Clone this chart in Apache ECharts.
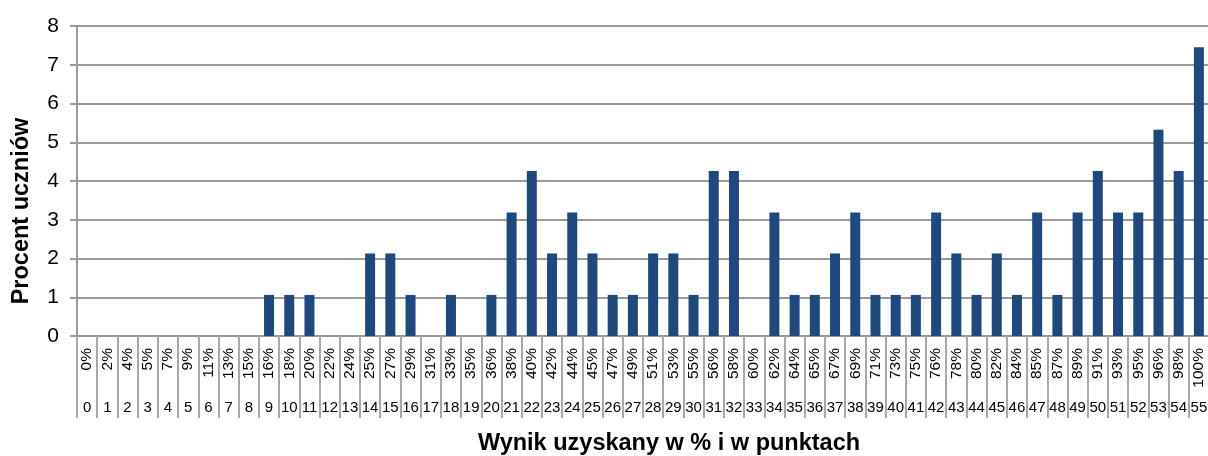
<!DOCTYPE html>
<html>
<head>
<meta charset="utf-8">
<script src="https://cdn.jsdelivr.net/npm/echarts@6/dist/echarts.min.js"></script>
<style>html,body{margin:0;padding:0;background:#fff;}#chart{width:1208px;height:456px;}</style>
</head>
<body>
<div id="chart"></div>
<script>
const points = [];
for (let i = 0; i <= 55; i++) points.push(String(i));
const percentLabels = ['0%','2%','4%','5%','7%','9%','11%','13%','15%','16%','18%','20%','22%','24%','25%','27%','29%','31%','33%','35%','36%','38%','40%','42%','44%','45%','47%','49%','51%','53%','55%','56%','58%','60%','62%','64%','65%','67%','69%','71%','73%','75%','76%','78%','80%','82%','84%','85%','87%','89%','91%','93%','95%','96%','98%','100%'];
const values = [0,0,0,0,0,0,0,0,0,1.06,1.06,1.06,0,0,2.13,2.13,1.06,0,1.06,0,1.06,3.19,4.26,2.13,3.19,2.13,1.06,1.06,2.13,2.13,1.06,4.26,4.26,0,3.19,1.06,1.06,2.13,3.19,1.06,1.06,1.06,3.19,2.13,1.06,2.13,1.06,3.19,1.06,3.19,4.26,3.19,3.19,5.32,4.26,7.45];
const yTicks = [0,1,2,3,4,5,6,7,8];
const xTitle = 'Wynik uzyskany w % i w punktach';
const yTitle = 'Procent uczniów';

const chart = echarts.init(document.getElementById('chart'), null, {renderer: 'canvas'});
const font = '"Liberation Sans", Arial, sans-serif';
chart.setOption({
  animation: false,
  grid: {left: 77, right: -1, top: 26, bottom: 120, containLabel: false, outerBoundsMode: 'none'},
  xAxis: [{
    type: 'category',
    data: percentLabels,
    position: 'bottom',
    boundaryGap: true,
    axisLine: {lineStyle: {color: '#9a9a9a', width: 2}},
    axisTick: {show: true, interval: 0, length: 82, lineStyle: {color: '#a8a8a8', width: 2}},
    axisLabel: {interval: 0, rotate: 90, margin: 12, fontSize: 15.5, color: '#000', fontFamily: font},
    name: xTitle,
    nameLocation: 'middle',
    nameGap: 96,
    nameTextStyle: {fontSize: 23.5, fontWeight: 'bold', color: '#000', fontFamily: font, padding: [0, 0, 0, 52]}
  }, {
    type: 'category',
    data: points,
    position: 'bottom',
    gridIndex: 0,
    boundaryGap: true,
    axisLine: {show: false},
    axisTick: {show: false},
    axisLabel: {interval: 0, margin: 64, fontSize: 15, color: '#000', fontFamily: font}
  }],
  yAxis: {
    type: 'value',
    min: yTicks[0],
    max: yTicks[yTicks.length - 1],
    interval: 1,
    axisLine: {show: true, lineStyle: {color: '#9a9a9a', width: 2}},
    axisTick: {show: true, length: 7, lineStyle: {color: '#9a9a9a', width: 2}},
    axisLabel: {margin: 18, fontSize: 21, color: '#000', fontFamily: font},
    splitLine: {show: true, lineStyle: {color: '#9a9a9a', width: 2}}
  },
  graphic: [{
    type: 'text',
    x: 22,
    y: 211,
    rotation: Math.PI / 2,
    style: {text: yTitle, font: 'bold 23.5px "Liberation Sans", Arial, sans-serif', fill: '#000', textAlign: 'center', textVerticalAlign: 'middle'}
  }],
  series: [{
    type: 'bar',
    xAxisIndex: 0,
    data: values,
    barWidth: 10,
    itemStyle: {color: '#1F497D'}
  }]
});
</script>
</body>
</html>
